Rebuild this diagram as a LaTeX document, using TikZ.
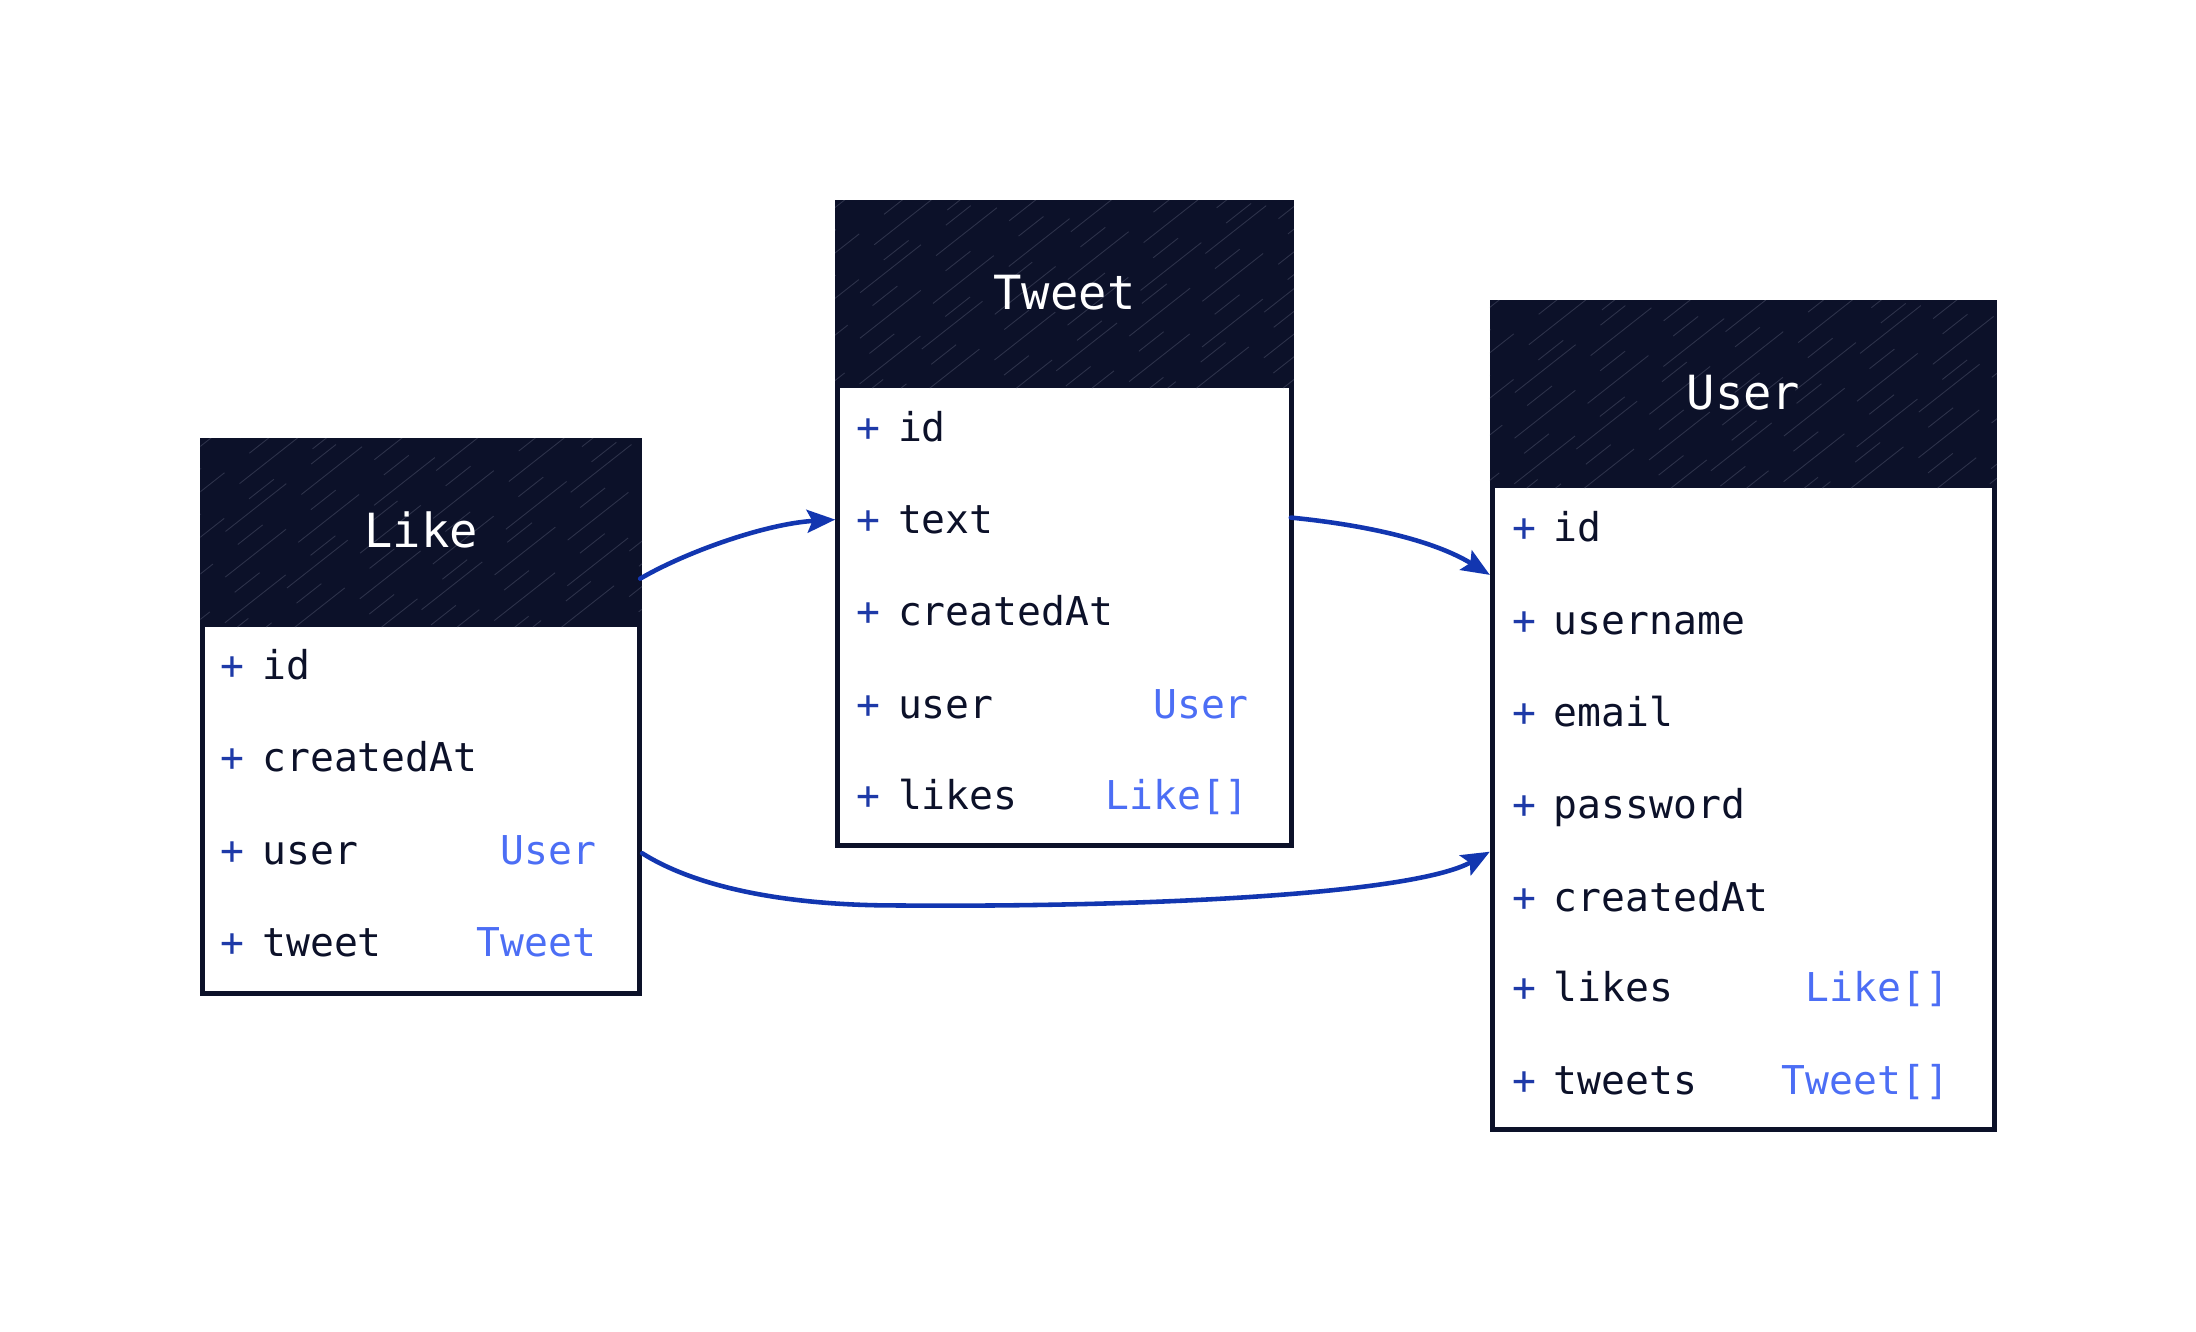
\documentclass[tikz,border=0pt]{standalone}
\usepackage{fontspec}
\setmonofont{DejaVu Sans Mono}
\usetikzlibrary{fit,arrows.meta,calc}
\definecolor{navy}{HTML}{0C1129}
\definecolor{plusc}{HTML}{1E3AA8}
\definecolor{typec}{HTML}{4C6EF5}
\definecolor{arrowc}{HTML}{1236B0}
\definecolor{hatchc}{HTML}{7A7F98}
\newcommand\fldfont{\ttfamily\fontsize{11.3}{13}\selectfont}
\newcommand\ttlfont{\ttfamily\fontsize{13.4}{16}\selectfont}
\tikzset{
  tablebox/.style={draw=navy, line width=1.4pt, fill=white, inner sep=0pt, rectangle},
  headbox/.style={fill=navy, draw=navy, line width=1.4pt, inner sep=0pt, rectangle},
  titletxt/.style={text=white, font=\ttlfont, inner sep=0pt, anchor=mid},
  plustxt/.style={text=plusc, font=\fldfont, inner sep=0pt, anchor=mid},
  nametxt/.style={text=navy, font=\fldfont, inner sep=0pt, anchor=mid west},
  typetxt/.style={text=typec, font=\fldfont, inner sep=0pt, anchor=mid east},
  hatch/.style={draw=hatchc, line width=0.25pt, opacity=0.3, dash pattern=on 22pt off 9pt on 9pt off 14pt},
  rel/.style={draw=arrowc, line width=1.3pt, line cap=round, -{Stealth[length=8pt,width=6.5pt,inset=1.5pt]}},
}
\newcommand\umlfield[3]{%
  \node[plustxt] (#1p) at (\px,#2) {+};
  \node[nametxt] (#1) at (\nx,#2) {#3};
}
\newcommand\umlfieldt[4]{%
  \node[plustxt] (#1p) at (\px,#2) {+};
  \node[nametxt] (#1) at (\nx,#2) {#3};
  \node[typetxt] (#1t) at (\tx,#2) {#4};
}
\newcommand\umlhatch[1]{%
  \begin{scope}
    \clip (#1.south west) rectangle (#1.north east);
    \foreach \k in {0,...,36} {
      \pgfmathsetmacro\ph{mod(\k*37,53)}
      \pgfmathsetmacro\dx{mod(\k*13,11)}
      \draw[hatch, dash phase=\ph pt] ($(#1.south west)+(\k*27+\dx-260,0)$) -- ++(600,-470);
    }
  \end{scope}
}
\begin{document}
\begin{tikzpicture}[x=0.009944cm, y=-0.01cm]
\useasboundingbox (0,0) rectangle (21.96cm,-13.32cm);
\fill[white] (0,0) rectangle (21.96cm,-13.32cm);

% ---------- Like ----------
\node[tablebox, fit={(204,441) (643,994)}] (like) {};
\node[headbox, fit={(204,441) (643,625)}] (likeh) {};
\umlhatch{likeh}
\node[titletxt] (liketitle) at ($(likeh.center)+(0,7)$) {Like};
\def\px{234}\def\nx{263}\def\tx{600}
\umlfield{lid}{672}{id}
\umlfield{lcreated}{764}{createdAt}
\umlfieldt{luser}{857}{user}{User}
\umlfieldt{ltweet}{949}{tweet}{Tweet}

% ---------- Tweet ----------
\node[tablebox, fit={(842,203) (1298,846)}] (tweet) {};
\node[headbox, fit={(842,203) (1298,386)}] (tweeth) {};
\umlhatch{tweeth}
\node[titletxt] (tweettitle) at ($(tweeth.center)+(0,8)$) {Tweet};
\def\px{873}\def\nx{902}\def\tx{1256}
\umlfield{tid}{434}{id}
\umlfield{ttext}{526}{text}
\umlfield{tcreated}{618}{createdAt}
\umlfieldt{tuser}{711}{user}{User}
\umlfieldt{tlikes}{802}{likes}{Like[]}

% ---------- User ----------
\node[tablebox, fit={(1500,303) (2005,1130)}] (user) {};
\node[headbox, fit={(1500,303) (2005,486)}] (userh) {};
\umlhatch{userh}
\node[titletxt] (usertitle) at ($(userh.center)+(0,8)$) {User};
\def\px{1532}\def\nx{1561}\def\tx{1960}
\umlfield{uid}{534}{id}
\umlfield{uname}{627}{username}
\umlfield{umail}{719}{email}
\umlfield{upass}{811}{password}
\umlfield{ucreated}{904}{createdAt}
\umlfieldt{ulikes}{995}{likes}{Like[]}
\umlfieldt{utweets}{1088}{tweets}{Tweet[]}

% ---------- connectors ----------
\coordinate (likeout) at ($(like.east)+(-2,0)$);
\coordinate (a1s) at (likeout |- 0,579);
\coordinate (a2e) at ($(uid)!0.5!(uname)$);
\coordinate (a3e) at ($(upass)!0.5!(ucreated)$);
\coordinate (a3m) at (901,906);

\draw[rel] (a1s) .. controls (690,552) and (770,524) .. (tweet.west |- ttext);
\draw[rel] ($(tweet.east |- ttext)+(-3,-2)$) .. controls (1370,525) and (1440,540) .. (user.west |- a2e);
\draw[rel] (like.east |- luser) .. controls (700,888) and (790,906) .. (a3m)
           .. controls (1150,908) and (1420,895) .. (user.west |- a3e);
\end{tikzpicture}
\end{document}
